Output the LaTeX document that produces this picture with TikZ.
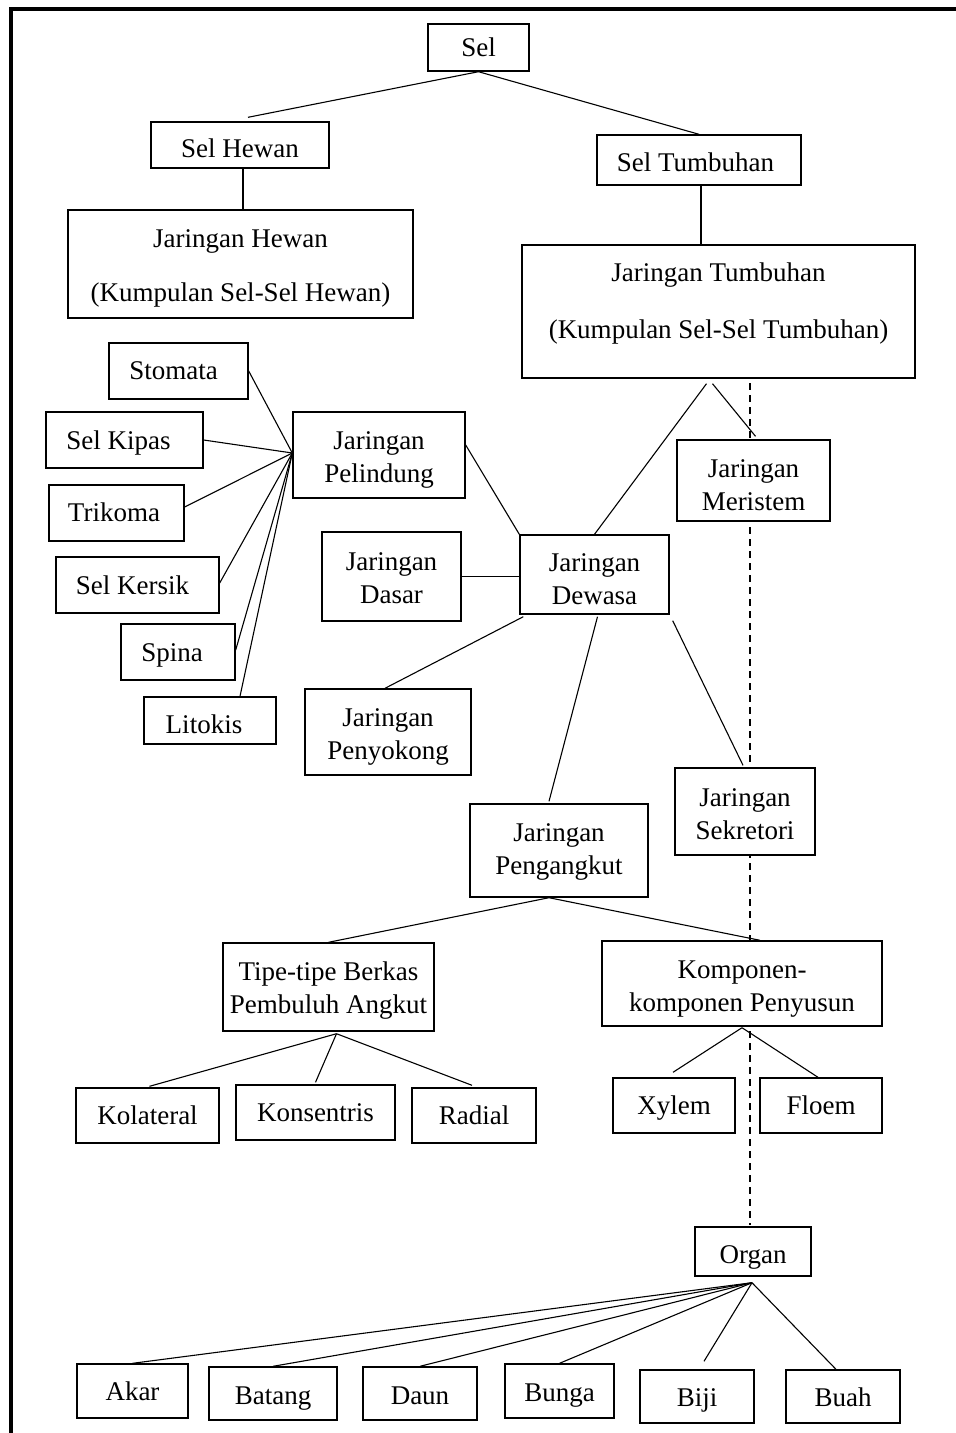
\documentclass[tikz,border=0pt]{standalone}
\usepackage{fontspec}
\setmainfont{Liberation Serif}
\usetikzlibrary{calc}
\tikzset{
  bx/.style={draw, fill=white, line width=1.4pt, inner sep=0pt, align=center,
    font=\fontsize{27}{33}\selectfont, text depth=6pt},
  tdown/.style={text height={18pt+2*(#1)}},
  link/.style={line width=1.1pt},
  guide/.style={line width=1.1pt, dash pattern=on 7pt off 5pt},
  frame/.style={line width=4pt}
}
% name, left, top, right, bottom, text shift, text
\newcommand\boxnode[7]{%
  \node[bx, tdown={#6}, minimum width={(#4)-(#2)}, minimum height={(#5)-(#3)}]
    (#1) at ({((#2)+(#4))/2},{((#3)+(#5))/2}) {#7};}
\begin{document}
\begin{tikzpicture}[x=1pt,y=-1pt]
\useasboundingbox (0,0) rectangle (956,1433);
% frame
\coordinate (fa) at (11,1433);
\coordinate (fb) at (11,9);
\coordinate (fc) at (956,9);
\draw[frame] (fa) -- (fb) -- (fc);
% dashed guide
\coordinate (gtop) at (750,383);
\coordinate (gbot) at (750,1225);
\draw[guide] (gtop) -- (gbot);

\boxnode{sel}{428}{24}{529}{71}{2.5}{Sel}
\boxnode{selhewan}{151}{122}{329}{168}{6}{Sel Hewan}
\boxnode{seltum}{597}{135}{801}{185}{5}{Sel Tumbuhan\hspace{7pt}}
\boxnode{jhewan}{68}{210}{413}{318}{31}{Jaringan Hewan\\[21pt](Kumpulan Sel-Sel Hewan)}
\boxnode{jtum}{522}{245}{915}{378}{20.5}{Jaringan Tumbuhan\\[24pt](Kumpulan Sel-Sel Tumbuhan)}
\boxnode{stomata}{109}{343}{248}{399}{2}{Stomata\hspace{10pt}}
\boxnode{selkipas}{46}{412}{203}{468}{3}{Sel Kipas\hspace{12pt}}
\boxnode{trikoma}{49}{485}{184}{541}{2}{Trikoma\hspace{5pt}}
\boxnode{selkersik}{56}{557}{219}{613}{3}{Sel Kersik\hspace{10pt}}
\boxnode{spina}{121}{624}{235}{680}{3}{Spina\hspace{12pt}}
\boxnode{litokis}{144}{697}{276}{744}{6.5}{Litokis\hspace{12pt}}
\boxnode{pelindung}{293}{412}{465}{498}{21}{Jaringan\\Pelindung}
\boxnode{dasar}{322}{532}{461}{621}{20.5}{Jaringan\\Dasar}
\boxnode{dewasa}{520}{535}{669}{614}{23.5}{Jaringan\\Dewasa}
\boxnode{meristem}{677}{440}{830}{521}{23.5}{Jaringan\\Meristem}
\boxnode{penyokong}{305}{689}{471}{775}{21}{Jaringan\\Penyokong}
\boxnode{pengangkut}{470}{804}{648}{897}{17.5}{Jaringan\\Pengangkut}
\boxnode{sekretori}{675}{768}{815}{855}{21.5}{Jaringan\\Sekretori}
\boxnode{tipe}{223}{943}{434}{1031}{20}{Tipe-tipe Berkas\\Pembuluh Angkut}
\boxnode{komponen}{602}{941}{882}{1026}{21.5}{Komponen-\\komponen Penyusun}
\boxnode{kolateral}{76}{1088}{219}{1143}{2.5}{Kolateral}
\boxnode{konsentris}{236}{1085}{395}{1140}{2.5}{Konsentris}
\boxnode{radial}{412}{1088}{536}{1143}{2.5}{Radial}
\boxnode{xylem}{613}{1078}{735}{1133}{2.5}{Xylem}
\boxnode{floem}{760}{1078}{882}{1133}{2.5}{Floem}
\boxnode{organ}{695}{1227}{811}{1276}{5.5}{Organ}
\boxnode{akar}{77}{1364}{188}{1418}{3}{Akar}
\boxnode{batang}{209}{1367}{337}{1420}{4.5}{Batang}
\boxnode{daun}{363}{1367}{477}{1420}{4.5}{Daun}
\boxnode{bunga}{505}{1364}{614}{1418}{4}{Bunga}
\boxnode{biji}{640}{1370}{754}{1423}{3.5}{Biji}
\boxnode{buah}{786}{1370}{900}{1423}{3.5}{Buah}

% connectors
\draw[link] (sel.south) -- ([xshift=8pt,yshift=4pt]selhewan.north);
\draw[link] (sel.south) -- (seltum.north);
\draw[link] ([xshift=3pt]selhewan.south) -- ([xshift=3pt]selhewan.south |- jhewan.north);
\draw[link] ([xshift=2pt]seltum.south) -- ([xshift=2pt]seltum.south |- jtum.north);
\draw[link] ([xshift=-12pt,yshift=-5pt]jtum.south) -- (dewasa.north);
\draw[link] ([xshift=-6pt,yshift=-5pt]jtum.south) -- ([xshift=2pt,yshift=3pt]meristem.north);
\coordinate (phub) at ([yshift=2pt]pelindung.west);
\draw[link] (stomata.east) -- (phub);
\draw[link] (selkipas.east) -- (phub);
\draw[link] ([yshift=6pt]trikoma.east) -- (phub);
\draw[link] ([yshift=2pt]selkersik.east) -- (phub);
\draw[link] ([yshift=2pt]spina.east) -- (phub);
\draw[link] ([xshift=30pt]litokis.north) -- (phub);
\draw[link] ([yshift=10pt]pelindung.east) -- (dewasa.north west);
\draw[link] (dasar.east) -- (dasar.east -| dewasa.west);
\draw[link] ([xshift=4pt,yshift=-2pt]dewasa.south west) -- ([xshift=-3pt]penyokong.north);
\draw[link] ([xshift=3pt,yshift=-2pt]dewasa.south) -- ([xshift=-10pt,yshift=2pt]pengangkut.north);
\draw[link] ([xshift=3pt,yshift=-6pt]dewasa.south east) -- ([xshift=-2pt,yshift=2pt]sekretori.north);
\coordinate (phub2) at ([xshift=-10pt]pengangkut.south);
\draw[link] (phub2) -- (tipe.north);
\draw[link] (phub2) -- ([xshift=18pt]komponen.north);
\coordinate (thub) at ([xshift=8pt,yshift=-2pt]tipe.south);
\draw[link] (thub) -- ([xshift=2pt,yshift=1pt]kolateral.north);
\draw[link] (thub) -- ([yshift=2pt]konsentris.north);
\draw[link] (thub) -- ([xshift=-2pt,yshift=2pt]radial.north);
\coordinate (khub) at ([yshift=-1pt]komponen.south);
\draw[link] (khub) -- ([xshift=-1pt,yshift=5pt]xylem.north);
\draw[link] (khub) -- ([xshift=-3pt]floem.north);
\coordinate (ohub) at ([xshift=-1pt,yshift=-6pt]organ.south);
\draw[link] (ohub) -- (akar.north);
\draw[link] (ohub) -- (batang.north);
\draw[link] (ohub) -- (daun.north);
\draw[link] (ohub) -- (bunga.north);
\draw[link] (ohub) -- ([xshift=7pt,yshift=8pt]biji.north);
\draw[link] (ohub) -- ([xshift=-7pt]buah.north);
\end{tikzpicture}
\end{document}
